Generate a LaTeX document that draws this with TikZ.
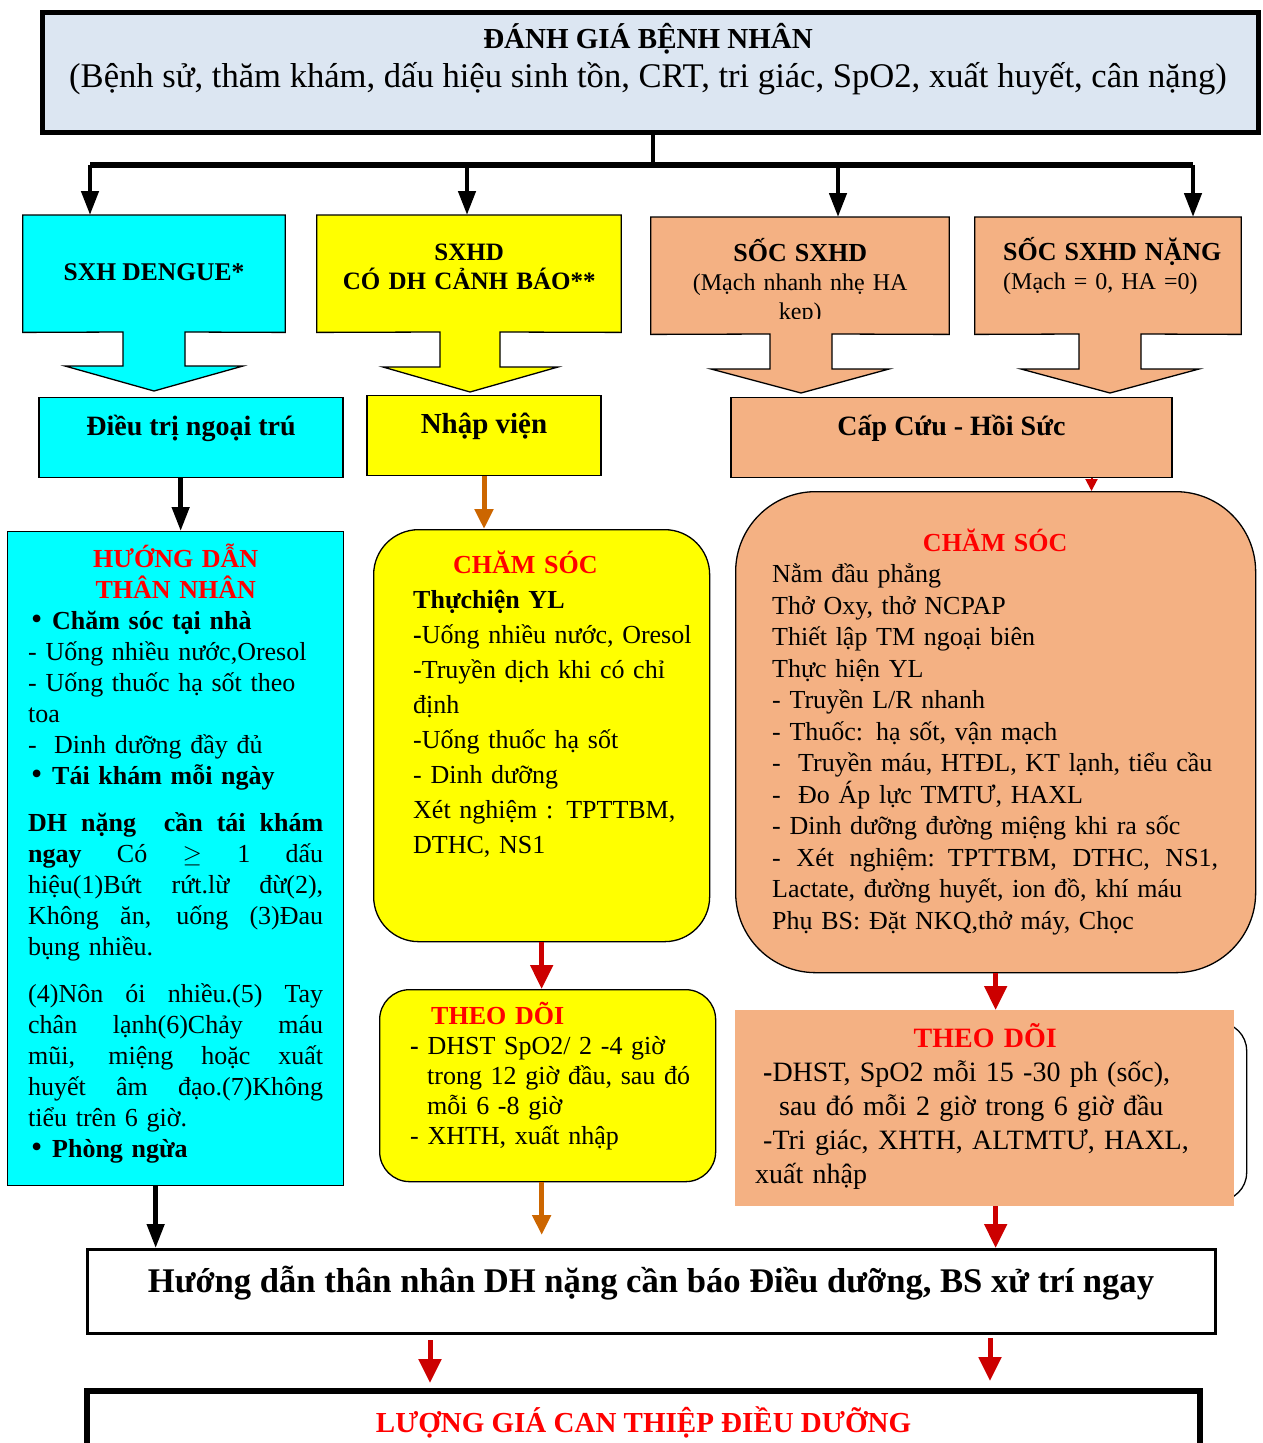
\documentclass[tikz,border=0pt]{standalone}
\usepackage{fontspec}
\setmainfont{Liberation Serif}
\usepackage{tikz}
\usetikzlibrary{arrows.meta,backgrounds}
\definecolor{headfill}{HTML}{DCE6F2}
\definecolor{cyanfill}{HTML}{00FFFF}
\definecolor{yelfill}{HTML}{FFFF00}
\definecolor{salmon}{HTML}{F4B183}
\definecolor{titlered}{HTML}{FF0000}
\definecolor{arrred}{HTML}{CC0000}
\definecolor{arrorange}{HTML}{CC6600}
\newcommand{\fs}[2]{\fontsize{#1}{#2}\selectfont}
% justified line of a given width
\newcommand{\jl}[2][295pt]{\makebox[#1][s]{\spaceskip=.25em plus 1fil\relax #2}}
\newcommand{\bl}{\hspace*{3pt}\makebox[21pt][l]{\fs{32}{31}•}}
\tikzset{
  box/.style={draw=black, line width=1.3pt, inner sep=0pt},
  frame/.style={inner sep=0pt, anchor=north},
  txt/.style={inner sep=0pt, anchor=base west},
  ctxt/.style={inner sep=0pt, anchor=base},
  blk/.style={draw=black, line width=4.5pt, -{Triangle[length=24pt,width=17pt]}},
  redarr/.style={draw=arrred, line width=5pt, -{Triangle[length=24pt,width=22pt]}},
  orarr/.style={draw=arrorange, line width=5pt, -{Triangle[length=20pt,width=18pt]}}
}

\begin{document}
\begin{tikzpicture}[x=1pt, y=-1pt]
  \useasboundingbox (0,0) rectangle (1263,1443);
  \clip (0,0) rectangle (1263,1443);

  % header
  \node[box, line width=4.5pt, fill=headfill, anchor=north west, minimum width=1216pt, minimum height=120pt] (top) at (40,10) {};
  \node[ctxt, font=\fs{29}{34}\bfseries] (top-t1) at (648,48) {ĐÁNH GIÁ BỆNH NHÂN};
  \node[ctxt, font=\fs{34.6}{38}] (top-t2) at (648,87) {(Bệnh sử, thăm khám, dấu hiệu sinh tồn, CRT, tri giác, SpO2, xuất huyết, cân nặng)};

  \coordinate (hub) at (653,165);
  \coordinate (bar-a) at (90,165);
  \coordinate (bar-b) at (467,165);
  \coordinate (bar-c) at (838,165);
  \coordinate (bar-d) at (1193,165);
  \draw[line width=4.5pt] (top.south -| hub) -- (hub);
  \draw[line width=6pt] (bar-a) -- (bar-d);

  % classification boxes (arrow callouts)
  \node[frame, minimum width=262pt, minimum height=117pt] (sxh) at (154,215) {};
  \node[frame, minimum width=304pt, minimum height=117pt] (sxhd) at (469,215) {};
  \node[frame, minimum width=298pt, minimum height=117pt] (soc) at (800,217) {};
  \node[frame, minimum width=266pt, minimum height=117pt] (socn) at (1108,217) {};
  \begin{scope}[on background layer]
    \draw[box, fill=cyanfill] (sxh.south west) -- (sxh.north west) -- (sxh.north east) -- (sxh.south east)
      -- (185,332) -- (185,366) -- (243,366) -- (154,391) -- (65,366) -- (123,366) -- (123,332) -- cycle;
    \draw[box, fill=yelfill] (sxhd.south west) -- (sxhd.north west) -- (sxhd.north east) -- (sxhd.south east)
      -- (500,332) -- (500,367) -- (558,367) -- (470,392) -- (383,367) -- (440,367) -- (440,332) -- cycle;
    \draw[box, fill=salmon] (soc.south west) -- (soc.north west) -- (soc.north east) -- (soc.south east)
      -- (832,334) -- (832,369) -- (889,369) -- (801,393) -- (711,369) -- (770,369) -- (770,334) -- cycle;
    \draw[box, fill=salmon] (socn.south west) -- (socn.north west) -- (socn.north east) -- (socn.south east)
      -- (1141,334) -- (1141,369) -- (1199,369) -- (1110,393) -- (1021,369) -- (1079,369) -- (1079,334) -- cycle;
  \end{scope}
  \node[ctxt, font=\fs{25.5}{29}\bfseries] (sxh-t) at (154,280) {SXH DENGUE*};
  \node[txt, text width=304pt, align=center, font=\fs{25}{29}\bfseries] (sxhd-t) at (317,260) {SXHD\\CÓ DH CẢNH BÁO**};
  \begin{scope}
    \clip (651,217) rectangle (949,318);
    \node[txt, text width=298pt, align=center, font=\fs{24}{29}] (soc-t) at (651,261) {{\fs{26}{29}\bfseries SỐC SXHD}\\(Mạch nhanh nhẹ HA\\kẹp)};
  \end{scope}
  \node[txt, text width=236pt, font=\fs{24}{29}] (socn-t) at (1003,260) {{\fs{26}{29}\bfseries SỐC SXHD NẶNG}\\(Mạch = 0, HA =0)};

  \foreach \b/\n in {a/sxh,b/sxhd,c/soc,d/socn}
    \draw[blk] (bar-\b) -- (bar-\b |- \n.north);

  % where to treat
  \node[box, fill=cyanfill, anchor=north, minimum width=304pt, text height=38pt, text depth=42pt, font=\fs{28}{32}\bfseries] (ngoai) at (191,397) {Điều trị ngoại trú};
  \node[box, fill=yelfill, anchor=north, minimum width=234pt, text height=38pt, text depth=42pt, font=\fs{29}{32}\bfseries] (nhap) at (484,395) {Nhập viện};
  \node[box, fill=salmon, anchor=north, minimum width=441pt, text height=38pt, text depth=42pt, font=\fs{28}{32}\bfseries] (capcuu) at (951.5,397) {Cấp Cứu - Hồi Sức};

  % care boxes
  \node[box, fill=cyanfill, anchor=north west, minimum width=336pt, minimum height=654pt] (guide) at (7,531) {};
  \node[box, fill=yelfill, rounded corners=45pt, anchor=north west, minimum width=336pt, minimum height=412pt] (care2) at (373,529) {};
  \node[box, fill=salmon, rounded corners=80pt, anchor=north west, minimum width=520pt, minimum height=481pt] (care3) at (735,491) {};

  \node[txt, text width=295pt, font=\fs{26}{31}] (guide-t) at (28,567) {%
    {\centering\bfseries\color{titlered}HƯỚNG DẪN\\THÂN NHÂN\par}
    \bl\textbf{Chăm sóc tại nhà}\\
    - Uống nhiều nước,Oresol\\
    - Uống thuốc hạ sốt theo\\
    toa\\
    -\ \ Dinh dưỡng đầy đủ\\
    \bl\textbf{Tái khám mỗi ngày}\\[16pt]
    \jl{\textbf{DH nặng \ cần tái khám}}\\
    \jl{\textbf{ngay} Có $\geq$ 1 dấu}\\
    \jl{hiệu(1)Bứt rứt.lừ đừ(2),}\\
    \jl{Không ăn, uống (3)Đau}\\
    bụng nhiều.\\[16pt]
    \jl{(4)Nôn ói nhiều.(5) Tay}\\
    \jl{chân lạnh(6)Chảy máu}\\
    \jl{mũi, miệng hoặc xuất}\\
    \jl{huyết âm đạo.(7)Không}\\
    tiểu trên 6 giờ.\\
    \bl\textbf{Phòng ngừa}};

  \node[txt, text width=292pt, font=\fs{26}{35}] (care2-t) at (413,573) {%
    \hspace*{40pt}{\bfseries\color{titlered}CHĂM SÓC}\\
    \textbf{Thựchiện YL}\\
    \textbf{-}Uống nhiều nước, Oresol\\
    -Truyền dịch khi có chỉ\\
    định\\
    -Uống thuốc hạ sốt\\
    - Dinh dưỡng\\
    Xét nghiệm : TPTTBM,\\
    DTHC, NS1};

  \node[txt, text width=446pt, font=\fs{26}{31.5}] (care3-t) at (772,551) {%
    {\centering\bfseries\color{titlered}CHĂM SÓC\par}
    Nằm đầu phẳng\\
    Thở Oxy, thở NCPAP\\
    Thiết lập TM ngoại biên\\
    Thực hiện YL\\
    - Truyền L/R nhanh\\
    - Thuốc: hạ sốt, vận mạch\\
    -\ \ Truyền máu, HTĐL, KT lạnh, tiểu cầu\\
    -\ \ Đo Áp lực TMTƯ, HAXL\\
    - Dinh dưỡng đường miệng khi ra sốc\\
    \jl[446pt]{- Xét nghiệm: TPTTBM, DTHC, NS1,}\\
    Lactate, đường huyết, ion đồ, khí máu\\
    Phụ BS: Đặt NKQ,thở máy, Chọc};

  % monitoring boxes
  \node[box, fill=yelfill, rounded corners=30pt, anchor=north west, minimum width=336pt, minimum height=192pt] (watch2) at (379,989) {};
  \node[box, rounded corners=28pt, anchor=north west, minimum width=511pt, minimum height=178pt] (watch3-frame) at (735,1022) {};
  \node[fill=salmon, inner sep=0pt, anchor=north west, minimum width=499pt, minimum height=196pt] (watch3) at (735,1010) {};

  \node[txt, text width=310pt, font=\fs{26}{30}] (watch2-t) at (410,1024) {%
    \hspace*{21pt}{\bfseries\color{titlered}THEO DÕI}\\
    \textbf{-} DHST SpO2/ 2 -4 giờ\\
    \hspace*{17pt}trong 12 giờ đầu, sau đó\\
    \hspace*{17pt}mỗi 6 -8 giờ\\
    - XHTH, xuất nhập};

  \node[txt, text width=460pt, font=\fs{28}{34}] (watch3-t) at (755,1047) {%
    {\centering\bfseries\color{titlered}THEO DÕI\par}
    \hspace*{8pt}\textbf{-}DHST, SpO2 mỗi 15 -30 ph (sốc),\\
    \hspace*{24pt}sau đó mỗi 2 giờ trong 6 giờ đầu\\
    \hspace*{8pt}-Tri giác, XHTH, ALTMTƯ, HAXL,\\
    xuất nhập};

  % final boxes
  \node[box, line width=3pt, fill=white, anchor=north, minimum width=1128pt, text height=43pt, text depth=41pt, font=\fs{34.6}{38}\bfseries] (notify) at (651,1248) {Hướng dẫn thân nhân DH nặng cần báo Điều dưỡng, BS xử trí ngay};
  \node[box, line width=5.5pt, fill=white, anchor=north, minimum width=1113pt, text height=42pt, text depth=50pt, font=\fs{29}{32}\bfseries, text=titlered] (evalbox) at (643.5,1388) {LƯỢNG GIÁ CAN THIỆP ĐIỀU DƯỠNG};

  % connectors
  \draw[blk] ([xshift=5pt]guide.north |- ngoai.south) -- ([xshift=5pt]guide.north);
  \draw[orarr] (nhap.south) -- (nhap.south |- care2.north);
  \draw[arrred, line width=2pt, -{Triangle[length=12pt,width=12pt]}] ([xshift=140pt]capcuu.south) -- ([xshift=140pt]capcuu.south |- care3.north);
  \draw[redarr] ([xshift=-6pt]watch2.north |- care2.south) -- ([xshift=-6pt]watch2.north);
  \draw[redarr] (care3.south) -- (care3.south |- watch3.north);
  \draw[blk] ([xshift=-20pt]guide.south) -- ([xshift=-20pt]guide.south |- notify.north);
  \draw[orarr] ([xshift=-6pt]watch2.south) -- ([xshift=-6pt, yshift=13pt]watch2.south |- notify.north);
  \draw[redarr] (care3.south |- watch3.south) -- (care3.south |- notify.north);
  \draw[redarr] ([xshift=-221pt, yshift=-5pt]notify.south) -- ([xshift=-221pt, yshift=5pt]notify.south |- evalbox.north);
  \draw[redarr] ([xshift=339pt, yshift=-3pt]notify.south) -- ([xshift=339pt, yshift=7pt]notify.south |- evalbox.north);
\end{tikzpicture}
\end{document}
